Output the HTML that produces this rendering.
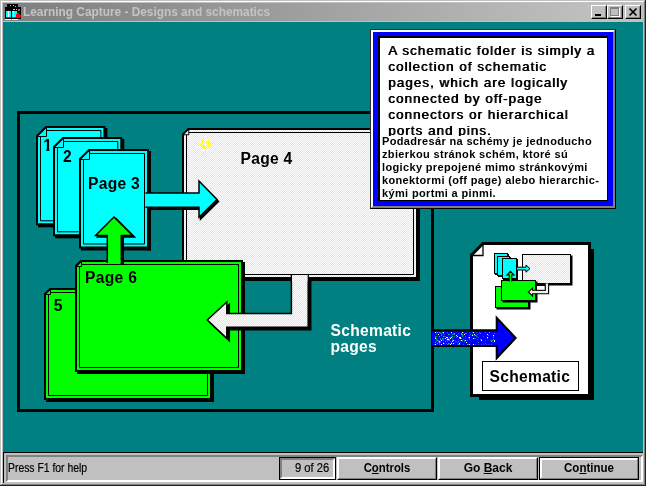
<!DOCTYPE html>
<html lang="en">
<head>
<meta charset="utf-8">
<title>Learning Capture - Designs and schematics</title>
<style>
html,body{margin:0;padding:0;}
body{width:646px;height:486px;overflow:hidden;background:#c0c0c0;position:relative;font-family:"Liberation Sans",sans-serif;-webkit-font-smoothing:none;}
.abs{position:absolute;}
#frame{left:0;top:0;width:646px;height:486px;background:#c0c0c0;}
#f-w-t{left:1px;top:1px;width:643px;height:1px;background:#fff;}
#f-w-l{left:1px;top:1px;width:1px;height:483px;background:#fff;}
#f-d-r{left:644px;top:1px;width:1px;height:484px;background:#808080;}
#f-d-b{left:1px;top:484px;width:644px;height:1px;background:#808080;}
#f-k-r{left:645px;top:0;width:1px;height:486px;background:#202020;}
#f-k-b{left:0;top:485px;width:646px;height:1px;background:#202020;}
#title{left:3px;top:3px;width:640px;height:18px;background:linear-gradient(to right,#808080 0%,#828282 6%,#c0c0c0 93%);}
#ttext{left:23px;top:4px;height:16px;line-height:16px;font-size:12px;font-weight:bold;color:#c4c4c4;white-space:nowrap;transform-origin:0 0;transform:scaleX(0.988);}
.tb{top:5px;width:16px;height:14px;background:#c0c0c0;box-sizing:border-box;border:1px solid;border-color:#fff #000 #000 #fff;}
.tb i{position:absolute;left:0;top:0;right:0;bottom:0;border:1px solid;border-color:#c0c0c0 #808080 #808080 #c0c0c0;}
#client{left:3px;top:22px;width:640px;height:430px;background:#008080;overflow:hidden;}
#sbline{left:3px;top:452px;width:640px;height:1px;background:#000;}
#sbvline{left:3px;top:452px;width:1px;height:31px;background:#000;}
#pane1{left:6px;top:455px;width:637px;height:27px;box-sizing:border-box;border:2px solid;border-color:#808080 #fff #fff #808080;}
#help{-webkit-text-stroke:0.2px #000;left:8px;top:461px;font-size:12px;line-height:14px;color:#000;white-space:nowrap;transform-origin:0 0;transform:scaleX(0.865);}
#cnt{left:279px;top:457px;width:57px;height:23px;box-sizing:border-box;border:1px solid #000;background:#c0c0c0;}
#cnt i{position:absolute;left:0;top:0;right:0;bottom:0;border:2px solid;border-color:#808080 #fff #fff #808080;}
#cnt span{-webkit-text-stroke:0.2px #000;position:absolute;left:14.5px;top:3px;font-size:12px;line-height:14px;white-space:nowrap;transform-origin:0 0;transform:scaleX(0.93);}
.btn{top:457px;height:23px;box-sizing:border-box;background:#c0c0c0;border:1px solid;border-color:#fff #000 #000 #fff;}
.btn i{position:absolute;left:0;top:0;right:0;bottom:0;border:1px solid;border-color:#fff #808080 #808080 #fff;}
.btn span{position:absolute;left:0;right:0;top:3px;text-align:center;font-size:12px;line-height:14px;font-weight:bold;white-space:nowrap;}
.btn u{text-decoration:underline;text-decoration-thickness:1px;text-underline-offset:1px;}

#tbx{left:370px;top:29px;width:246px;height:180px;box-sizing:border-box;border:1px solid;border-color:#303030 #000 #000 #303030;background:#0000ff;}
#tbx .hl{position:absolute;left:0;top:0;right:0;bottom:0;border:2px solid;border-color:#fff #808080 #808080 #fff;}
#tbx .in{position:absolute;left:7px;top:6px;width:227px;height:162px;background:#fff;border:solid #000;border-width:2px 1px 1px 2px;box-sizing:content-box;}
#en{left:388px;top:43.1px;font-size:13.33px;line-height:15.9px;letter-spacing:1.07px;color:#000;white-space:nowrap;text-shadow:0.75px 0 0 #000;}
#sk{left:380px;top:136px;width:227px;height:64px;background:#fff;}
#skt{left:382px;top:135.3px;font-size:11px;line-height:12.95px;font-weight:bold;letter-spacing:0.35px;color:#000;white-space:nowrap;}
</style>
</head>
<body>
<div id="frame" class="abs"></div>
<div id="wrap" class="abs" style="left:0;top:0;width:646px;height:486px;will-change:transform;">
<div id="f-w-t" class="abs"></div><div id="f-w-l" class="abs"></div>
<div id="f-d-r" class="abs"></div><div id="f-d-b" class="abs"></div>
<div id="f-k-r" class="abs"></div><div id="f-k-b" class="abs"></div>
<div id="title" class="abs"></div>
<svg class="abs" style="left:5px;top:4px" width="16" height="16" viewBox="0 0 16 16" shape-rendering="crispEdges">
<rect x="2" y="0" width="11" height="3" fill="#000"/>
<rect x="0" y="3" width="16" height="4" fill="#000"/>
<rect x="5" y="1" width="1" height="1" fill="#c0c0c0"/><rect x="8" y="1" width="1" height="1" fill="#c0c0c0"/><rect x="10" y="2" width="1" height="1" fill="#c0c0c0"/>
<rect x="8" y="5" width="2" height="1" fill="#c0c0c0"/><rect x="11" y="5" width="1" height="1" fill="#c0c0c0"/><rect x="13" y="5" width="2" height="2" fill="#808080"/>
<rect x="0" y="7" width="16" height="8" fill="#000"/>
<rect x="1" y="7" width="5" height="7" fill="#00ffff"/>
<rect x="7" y="7" width="5" height="7" fill="#00ffff"/>
<rect x="3" y="7" width="1" height="6" fill="#fff"/><rect x="8" y="7" width="1" height="6" fill="#fff"/>
<rect x="1" y="13" width="5" height="1" fill="#008080"/><rect x="7" y="13" width="4" height="1" fill="#008080"/>
<rect x="0" y="15" width="6" height="1" fill="#fff"/><rect x="7" y="15" width="6" height="1" fill="#fff"/>
<rect x="11" y="10" width="4" height="4" fill="#ff0000"/><rect x="12" y="9" width="2" height="1" fill="#ff0000"/><rect x="15" y="11" width="1" height="2" fill="#ff0000"/>
<rect x="13" y="14" width="2" height="1" fill="#000080"/><rect x="15" y="13" width="1" height="1" fill="#000080"/>
</svg>
<div id="ttext" class="abs">Learning Capture - Designs and schematics</div>
<div class="abs tb" style="left:591px"><i></i><svg class="abs" style="left:0;top:0" width="14" height="12" shape-rendering="crispEdges"><rect x="3" y="8" width="6" height="2" fill="#000"/></svg></div>
<div class="abs tb" style="left:607px"><i></i><svg class="abs" style="left:0;top:0" width="14" height="12" shape-rendering="crispEdges"><rect x="3" y="2" width="9" height="9" fill="#fff"/><rect x="2" y="1" width="9" height="9" fill="#808080"/><rect x="3" y="3" width="7" height="6" fill="#c0c0c0"/></svg></div>
<div class="abs tb" style="left:625px"><i></i><svg class="abs" style="left:0;top:0" width="14" height="12"><path d="M3.5 2.5 L10.5 9.5 M10.5 2.5 L3.5 9.5" stroke="#000" stroke-width="1.7" fill="none"/></svg></div>

<div id="client" class="abs">
<!--DS-->
<svg class="abs" style="left:0;top:0" width="640" height="430" viewBox="3 22 640 430" font-family="Liberation Sans, sans-serif">
<defs><pattern id="dy" width="2" height="2" patternUnits="userSpaceOnUse"><rect width="2" height="2" fill="#ffff00"/><rect x="0" y="0" width="1" height="1" fill="#fff"/><rect x="1" y="1" width="1" height="1" fill="#fff"/></pattern></defs>
<rect x="18.5" y="112.5" width="414" height="298" fill="none" stroke="#000" stroke-width="3" shape-rendering="crispEdges"/>
<rect x="103.4" y="128" width="4" height="99.30000000000001" fill="#000"/>
<rect x="38" y="223.3" width="69.4" height="4" fill="#000"/>
<polygon points="46,127.0 104.4,127.0 104.4,224.3 37.0,224.3 37.0,136" fill="#00ffff" stroke="#000" stroke-width="2" stroke-linejoin="miter"/>
<path d="M46.5,127.0 V136.5 H37.0" fill="none" stroke="#000" stroke-width="1"/>
<path d="M46.5,130.5 H100.9 V220.8 H40.5 V136.5" fill="none" stroke="#000" stroke-width="1"/>
<clipPath id="c1"><rect x="40" y="130" width="14" height="18.8"/><rect x="46.2" y="148" width="3.1" height="4"/></clipPath>
<text x="43.3" y="150.6" font-size="15.6" font-weight="bold" letter-spacing="0.3" fill="#000" clip-path="url(#c1)">1</text>
<rect x="120.3" y="139" width="4" height="99.30000000000001" fill="#000"/>
<rect x="55" y="234.3" width="69.3" height="4" fill="#000"/>
<polygon points="63,138.0 121.3,138.0 121.3,235.3 54.0,235.3 54.0,147" fill="#00ffff" stroke="#000" stroke-width="2" stroke-linejoin="miter"/>
<path d="M63.5,138.0 V147.5 H54.0" fill="none" stroke="#000" stroke-width="1"/>
<path d="M63.5,141.5 H117.8 V231.8 H57.5 V147.5" fill="none" stroke="#000" stroke-width="1"/>
<text x="63" y="161.8" font-size="15.6" font-weight="bold" letter-spacing="0.3" fill="#000" >2</text>
<rect x="147" y="151" width="4" height="99.5" fill="#000"/>
<rect x="81" y="246.5" width="70" height="4" fill="#000"/>
<polygon points="89,150.0 148.0,150.0 148.0,247.5 80.0,247.5 80.0,159" fill="#00ffff" stroke="#000" stroke-width="2" stroke-linejoin="miter"/>
<path d="M89.5,150.0 V159.5 H80.0" fill="none" stroke="#000" stroke-width="1"/>
<path d="M89.5,153.5 H144.5 V244.0 H83.5 V159.5" fill="none" stroke="#000" stroke-width="1"/>
<text x="88" y="188.5" font-size="15.6" font-weight="bold" letter-spacing="0.3" fill="#000" >Page 3</text>
<rect x="416" y="130" width="4" height="151" fill="#000"/>
<rect x="184" y="277" width="236" height="4" fill="#000"/>
<polygon points="188.3,129.0 417.0,129.0 417.0,278.0 183.0,278.0 183.0,134.3" fill="url(#dy)" stroke="#000" stroke-width="2" stroke-linejoin="miter"/>
<path d="M188.8,129.0 V134.8 H183.0" fill="none" stroke="#000" stroke-width="1"/>
<path d="M188.8,132.5 H413.5 V274.5 H186.5 V134.8" fill="none" stroke="#000" stroke-width="1"/>
<text x="240.5" y="164.1" font-size="15.6" font-weight="bold" letter-spacing="0.3" fill="#000" >Page 4</text>
<rect x="202" y="140" width="1" height="3" fill="#ffff00"/>
<rect x="210" y="144" width="1" height="2" fill="#ffff00"/>
<rect x="207" y="140" width="1" height="2" fill="#ffff00"/>
<rect x="203" y="151" width="1" height="3" fill="#ffff00"/>
<rect x="208" y="145" width="1" height="3" fill="#ffff00"/>
<rect x="206" y="149" width="1" height="2" fill="#ffff00"/>
<rect x="203" y="145" width="1" height="3" fill="#ffff00"/>
<rect x="206" y="138" width="1" height="2" fill="#fff"/>
<rect x="205" y="144" width="1" height="1" fill="#fff"/>
<rect x="201" y="149" width="1" height="2" fill="#fff"/>
<rect x="196" y="146" width="1" height="2" fill="#fff"/>
<rect x="202" y="145" width="1" height="2" fill="#ffff00"/>
<rect x="204" y="146" width="1" height="3" fill="#ffff00"/>
<rect x="205" y="136" width="1" height="2" fill="#fff"/>
<rect x="205" y="150" width="1" height="2" fill="#ffff00"/>
<rect x="203" y="151" width="1" height="1" fill="#ffff00"/>
<rect x="203" y="150" width="1" height="2" fill="#fff"/>
<rect x="206" y="141" width="1" height="2" fill="#ffff00"/>
<rect x="199" y="145" width="1" height="2" fill="#fff"/>
<rect x="205" y="143" width="1" height="2" fill="#fff"/>
<rect x="209" y="144" width="1" height="1" fill="#fff"/>
<rect x="200" y="144" width="1" height="1" fill="#ffff00"/>
<rect x="206" y="140" width="1" height="2" fill="#fff"/>
<rect x="206" y="149" width="1" height="3" fill="#fff"/>
<rect x="208" y="140" width="1" height="3" fill="#ffff00"/>
<rect x="208" y="143" width="1" height="3" fill="#ffff00"/>
<rect x="197" y="145" width="1" height="2" fill="#fff"/>
<path d="M145.5,193 H199 V181 L217,199.5 L199,217.3 V207.2 H145.5" transform="translate(1.5,2)" fill="#000" stroke="#000" stroke-width="1.5"/>
<path d="M145.5,193 H199 V181 L217,199.5 L199,217.3 V207.2 H145.5" fill="#00ffff" stroke="#000" stroke-width="1.5" stroke-linejoin="miter"/>
<rect x="144" y="190" width="1" height="22" fill="#000"/>
<rect x="210" y="290" width="4" height="112" fill="#000"/>
<rect x="46" y="398" width="168" height="4" fill="#000"/>
<polygon points="50,289.0 211.0,289.0 211.0,399.0 45.0,399.0 45.0,294" fill="#00ff00" stroke="#000" stroke-width="2" stroke-linejoin="miter"/>
<path d="M50.5,289.0 V294.5 H45.0" fill="none" stroke="#000" stroke-width="1"/>
<path d="M50.5,292.5 H207.5 V395.5 H48.5 V294.5" fill="none" stroke="#000" stroke-width="1"/>
<text x="53.8" y="311" font-size="15.6" font-weight="bold" letter-spacing="0.3" fill="#000" >5</text>
<rect x="241" y="262" width="4" height="112" fill="#000"/>
<rect x="77" y="370" width="168" height="4" fill="#000"/>
<polygon points="81,261.0 242.0,261.0 242.0,371.0 76.0,371.0 76.0,266" fill="#00ff00" stroke="#000" stroke-width="2" stroke-linejoin="miter"/>
<path d="M81.5,261.0 V266.5 H76.0" fill="none" stroke="#000" stroke-width="1"/>
<path d="M81.5,264.5 H238.5 V367.5 H79.5 V266.5" fill="none" stroke="#000" stroke-width="1"/>
<text x="85.1" y="282.7" font-size="15.6" font-weight="bold" letter-spacing="0.3" fill="#000" >Page 6</text>
<path d="M107.3,263 V235.5 H95.5 L114,217 L132.5,235.5 H121.3 V263" transform="translate(2,1.5)" fill="#000" stroke="#000" stroke-width="1.5"/>
<path d="M107.3,263 V235.5 H95.5 L114,217 L132.5,235.5 H121.3 V263" fill="#00ff00" stroke="#000" stroke-width="1.5" stroke-linejoin="miter"/>
<rect x="108" y="260" width="12.5" height="4" fill="#00ff00"/>
<path d="M291.4,275 V313.5 H226.8 V302 L207.3,320 L226.8,338.3 V327.3 H308.2 V275" transform="translate(2.5,2.5)" fill="#000" stroke="#000" stroke-width="1.5"/>
<path d="M291.4,275 V313.5 H226.8 V302 L207.3,320 L226.8,338.3 V327.3 H308.2 V275" fill="url(#dy)" stroke="#000" stroke-width="1.5" stroke-linejoin="miter"/>
<rect x="292.2" y="274.6" width="15.2" height="7" fill="url(#dy)"/>
<rect x="290" y="274" width="20" height="1" fill="#000"/>
<text x="330.5" y="336.4" font-size="15.6" font-weight="bold" letter-spacing="0.3" fill="#fff" >Schematic</text>
<text x="330.5" y="351.8" font-size="15.6" font-weight="bold" letter-spacing="0.3" fill="#fff" >pages</text>
<rect x="479" y="249" width="115" height="151" fill="#000"/>
<polygon points="483,243.5 589.5,243.5 589.5,395.5 471.5,395.5 471.5,255" fill="#fff" stroke="#000" stroke-width="3"/>
<path d="M483,242 V255.5 H470" fill="none" stroke="#000" stroke-width="1.3"/>
<rect x="495" y="254" width="14" height="21" fill="#000"/>
<rect x="494" y="253" width="14" height="21" fill="#000" shape-rendering="crispEdges"/>
<rect x="495" y="254" width="12" height="19" fill="#00ffff" shape-rendering="crispEdges"/>
<rect x="498" y="257" width="13" height="20" fill="#000"/>
<rect x="497" y="256" width="13" height="20" fill="#000" shape-rendering="crispEdges"/>
<rect x="498" y="257" width="11" height="18" fill="#00ffff" shape-rendering="crispEdges"/>
<rect x="503" y="259" width="15" height="21" fill="#000"/>
<rect x="502" y="258" width="15" height="21" fill="#000" shape-rendering="crispEdges"/>
<rect x="503" y="259" width="13" height="19" fill="#00ffff" shape-rendering="crispEdges"/>
<rect x="523.5" y="255.5" width="49" height="30" fill="#000"/>
<rect x="522" y="254" width="49" height="30" fill="#000" shape-rendering="crispEdges"/>
<rect x="523" y="255" width="47" height="28" fill="url(#dy)" shape-rendering="crispEdges"/>
<path d="M516.5,267.2 H526 V265 L530,268.6 L526,272.2 V270 H516.5 Z" fill="#00ffff" stroke="#000" stroke-width="1"/>
<rect x="496.5" y="287.5" width="34" height="22" fill="#000"/>
<rect x="495" y="286" width="34" height="22" fill="#000" shape-rendering="crispEdges"/>
<rect x="496" y="287" width="32" height="20" fill="#00ff00" shape-rendering="crispEdges"/>
<rect x="502.5" y="281.5" width="35" height="21" fill="#000"/>
<rect x="501" y="280" width="35" height="21" fill="#000" shape-rendering="crispEdges"/>
<rect x="502" y="281" width="33" height="19" fill="#00ff00" shape-rendering="crispEdges"/>
<path d="M509.2,281.5 V275 H507 L510.4,271.3 L514,275 H511.8 V281.5" fill="#00ff00" stroke="#000" stroke-width="1.1"/>
<path d="M545.2,283.5 V290.3 H532.5 V288.2 L528.3,292 L532.5,296 V293.8 H548.6 V283.5" fill="url(#dy)" stroke="#000" stroke-width="1.1"/>
<rect x="536.5" y="285.5" width="8.7" height="4.8" fill="#fff" stroke="#000" stroke-width="1"/>
<rect x="482.5" y="361.5" width="96" height="29" fill="#fff" stroke="#000" stroke-width="1" shape-rendering="crispEdges"/>
<text x="489.5" y="381.8" font-size="15.6" font-weight="bold" letter-spacing="0.3" fill="#000" >Schematic</text>
<path d="M432,331 H497 V318.5 L515.5,338 L497,357.5 V345.5 H432" fill="#0000ff" stroke="none"/>
<rect x="454" y="334" width="1" height="1" fill="#008080"/>
<rect x="438" y="340" width="1" height="1" fill="#4040ff"/>
<rect x="437" y="340" width="1" height="1" fill="#008080"/>
<rect x="461" y="338" width="1" height="1" fill="#008080"/>
<rect x="469" y="338" width="1" height="1" fill="#4040ff"/>
<rect x="441" y="335" width="1" height="1" fill="#4040ff"/>
<rect x="452" y="338" width="1" height="1" fill="#008080"/>
<rect x="477" y="334" width="1" height="1" fill="#4040ff"/>
<rect x="474" y="335" width="1" height="1" fill="#4040ff"/>
<rect x="457" y="336" width="1" height="1" fill="#008080"/>
<rect x="478" y="344" width="1" height="1" fill="#4040ff"/>
<rect x="453" y="340" width="1" height="1" fill="#ffffff"/>
<rect x="480" y="339" width="1" height="1" fill="#008080"/>
<rect x="441" y="340" width="1" height="1" fill="#ffffff"/>
<rect x="443" y="339" width="1" height="1" fill="#008080"/>
<rect x="456" y="341" width="1" height="1" fill="#00c0c0"/>
<rect x="437" y="343" width="1" height="1" fill="#4040ff"/>
<rect x="477" y="339" width="1" height="1" fill="#00c0c0"/>
<rect x="447" y="344" width="1" height="1" fill="#008080"/>
<rect x="465" y="333" width="1" height="1" fill="#00c0c0"/>
<rect x="451" y="343" width="1" height="1" fill="#ffffff"/>
<rect x="443" y="333" width="1" height="1" fill="#008080"/>
<rect x="476" y="335" width="1" height="1" fill="#4040ff"/>
<rect x="445" y="336" width="1" height="1" fill="#008080"/>
<rect x="460" y="340" width="1" height="1" fill="#4040ff"/>
<rect x="459" y="338" width="1" height="1" fill="#00c0c0"/>
<rect x="474" y="338" width="1" height="1" fill="#008080"/>
<rect x="447" y="339" width="1" height="1" fill="#ffffff"/>
<rect x="472" y="332" width="1" height="1" fill="#4040ff"/>
<rect x="443" y="340" width="1" height="1" fill="#ffffff"/>
<rect x="473" y="332" width="1" height="1" fill="#008080"/>
<rect x="473" y="338" width="1" height="1" fill="#ffffff"/>
<rect x="456" y="341" width="1" height="1" fill="#008080"/>
<rect x="463" y="339" width="1" height="1" fill="#008080"/>
<rect x="447" y="340" width="1" height="1" fill="#4040ff"/>
<rect x="448" y="340" width="1" height="1" fill="#4040ff"/>
<rect x="455" y="342" width="1" height="1" fill="#008080"/>
<rect x="481" y="344" width="1" height="1" fill="#4040ff"/>
<rect x="435" y="344" width="1" height="1" fill="#ffffff"/>
<rect x="446" y="343" width="1" height="1" fill="#ffffff"/>
<rect x="456" y="337" width="1" height="1" fill="#008080"/>
<rect x="448" y="339" width="1" height="1" fill="#008080"/>
<rect x="439" y="342" width="1" height="1" fill="#00c0c0"/>
<rect x="464" y="334" width="1" height="1" fill="#ffffff"/>
<rect x="444" y="334" width="1" height="1" fill="#4040ff"/>
<rect x="443" y="340" width="1" height="1" fill="#008080"/>
<rect x="447" y="332" width="1" height="1" fill="#ffffff"/>
<rect x="454" y="336" width="1" height="1" fill="#008080"/>
<rect x="437" y="343" width="1" height="1" fill="#00c0c0"/>
<rect x="490" y="340" width="1" height="1" fill="#008080"/>
<rect x="467" y="340" width="1" height="1" fill="#00c0c0"/>
<rect x="483" y="344" width="1" height="1" fill="#008080"/>
<rect x="469" y="332" width="1" height="1" fill="#4040ff"/>
<rect x="467" y="340" width="1" height="1" fill="#008080"/>
<rect x="490" y="340" width="1" height="1" fill="#008080"/>
<rect x="446" y="343" width="1" height="1" fill="#4040ff"/>
<rect x="468" y="344" width="1" height="1" fill="#008080"/>
<rect x="442" y="338" width="1" height="1" fill="#00c0c0"/>
<rect x="461" y="333" width="1" height="1" fill="#ffffff"/>
<rect x="443" y="343" width="1" height="1" fill="#ffffff"/>
<rect x="444" y="343" width="1" height="1" fill="#4040ff"/>
<rect x="459" y="337" width="1" height="1" fill="#ffffff"/>
<rect x="435" y="337" width="1" height="1" fill="#00c0c0"/>
<rect x="479" y="332" width="1" height="1" fill="#4040ff"/>
<rect x="440" y="333" width="1" height="1" fill="#008080"/>
<rect x="491" y="344" width="1" height="1" fill="#008080"/>
<rect x="477" y="336" width="1" height="1" fill="#4040ff"/>
<rect x="478" y="337" width="1" height="1" fill="#008080"/>
<rect x="485" y="343" width="1" height="1" fill="#008080"/>
<rect x="451" y="332" width="1" height="1" fill="#ffffff"/>
<rect x="463" y="332" width="1" height="1" fill="#4040ff"/>
<rect x="436" y="340" width="1" height="1" fill="#008080"/>
<rect x="444" y="336" width="1" height="1" fill="#008080"/>
<rect x="467" y="344" width="1" height="1" fill="#00c0c0"/>
<rect x="466" y="342" width="1" height="1" fill="#ffffff"/>
<rect x="436" y="332" width="1" height="1" fill="#4040ff"/>
<rect x="449" y="339" width="1" height="1" fill="#00c0c0"/>
<rect x="453" y="343" width="1" height="1" fill="#008080"/>
<rect x="487" y="334" width="1" height="1" fill="#ffffff"/>
<rect x="461" y="334" width="1" height="1" fill="#00c0c0"/>
<rect x="452" y="341" width="1" height="1" fill="#ffffff"/>
<rect x="436" y="339" width="1" height="1" fill="#ffffff"/>
<rect x="462" y="332" width="1" height="1" fill="#ffffff"/>
<rect x="469" y="337" width="1" height="1" fill="#ffffff"/>
<rect x="447" y="337" width="1" height="1" fill="#ffffff"/>
<rect x="458" y="333" width="1" height="1" fill="#4040ff"/>
<rect x="475" y="335" width="1" height="1" fill="#008080"/>
<rect x="443" y="338" width="1" height="1" fill="#00c0c0"/>
<rect x="435" y="336" width="1" height="1" fill="#008080"/>
<rect x="488" y="344" width="1" height="1" fill="#4040ff"/>
<rect x="458" y="344" width="1" height="1" fill="#00c0c0"/>
<rect x="443" y="336" width="1" height="1" fill="#008080"/>
<rect x="485" y="340" width="1" height="1" fill="#4040ff"/>
<rect x="486" y="344" width="1" height="1" fill="#4040ff"/>
<rect x="478" y="342" width="1" height="1" fill="#008080"/>
<rect x="436" y="334" width="1" height="1" fill="#008080"/>
<rect x="458" y="339" width="1" height="1" fill="#008080"/>
<rect x="465" y="336" width="1" height="1" fill="#008080"/>
<rect x="439" y="342" width="1" height="1" fill="#00c0c0"/>
<rect x="450" y="344" width="1" height="1" fill="#ffffff"/>
<rect x="448" y="343" width="1" height="1" fill="#00c0c0"/>
<rect x="465" y="338" width="1" height="1" fill="#ffffff"/>
<rect x="475" y="335" width="1" height="1" fill="#008080"/>
<rect x="442" y="332" width="1" height="1" fill="#00c0c0"/>
<rect x="451" y="342" width="1" height="1" fill="#008080"/>
<rect x="477" y="339" width="1" height="1" fill="#4040ff"/>
<rect x="452" y="339" width="1" height="1" fill="#008080"/>
<rect x="491" y="340" width="1" height="1" fill="#008080"/>
<rect x="493" y="339" width="1" height="1" fill="#00c0c0"/>
<rect x="462" y="336" width="1" height="1" fill="#008080"/>
<rect x="438" y="341" width="1" height="1" fill="#4040ff"/>
<rect x="450" y="337" width="1" height="1" fill="#4040ff"/>
<rect x="465" y="338" width="1" height="1" fill="#008080"/>
<rect x="460" y="337" width="1" height="1" fill="#008080"/>
<rect x="487" y="337" width="1" height="1" fill="#ffffff"/>
<rect x="487" y="338" width="1" height="1" fill="#008080"/>
<rect x="452" y="336" width="1" height="1" fill="#00c0c0"/>
<rect x="458" y="341" width="1" height="1" fill="#00c0c0"/>
<rect x="451" y="333" width="1" height="1" fill="#ffffff"/>
<rect x="474" y="334" width="1" height="1" fill="#ffffff"/>
<rect x="461" y="340" width="1" height="1" fill="#ffffff"/>
<rect x="480" y="333" width="1" height="1" fill="#00c0c0"/>
<rect x="492" y="340" width="1" height="1" fill="#00c0c0"/>
<rect x="460" y="337" width="1" height="1" fill="#ffffff"/>
<rect x="450" y="338" width="1" height="1" fill="#ffffff"/>
<rect x="441" y="334" width="1" height="1" fill="#008080"/>
<rect x="465" y="340" width="1" height="1" fill="#ffffff"/>
<rect x="469" y="335" width="1" height="1" fill="#008080"/>
<rect x="455" y="340" width="1" height="1" fill="#008080"/>
<rect x="460" y="338" width="1" height="1" fill="#4040ff"/>
<rect x="447" y="338" width="1" height="1" fill="#008080"/>
<rect x="488" y="335" width="1" height="1" fill="#008080"/>
<rect x="489" y="332" width="1" height="1" fill="#00c0c0"/>
<rect x="464" y="341" width="1" height="1" fill="#008080"/>
<rect x="448" y="334" width="1" height="1" fill="#008080"/>
<rect x="434" y="344" width="1" height="1" fill="#4040ff"/>
<rect x="453" y="334" width="1" height="1" fill="#4040ff"/>
<rect x="441" y="333" width="1" height="1" fill="#4040ff"/>
<rect x="494" y="341" width="1" height="1" fill="#ffffff"/>
<rect x="448" y="344" width="1" height="1" fill="#008080"/>
<rect x="451" y="337" width="1" height="1" fill="#008080"/>
<rect x="464" y="340" width="1" height="1" fill="#008080"/>
<rect x="435" y="338" width="1" height="1" fill="#ffffff"/>
<rect x="437" y="332" width="1" height="1" fill="#00c0c0"/>
<rect x="439" y="336" width="1" height="1" fill="#00c0c0"/>
<rect x="493" y="337" width="1" height="1" fill="#008080"/>
<rect x="457" y="342" width="1" height="1" fill="#008080"/>
<rect x="466" y="333" width="1" height="1" fill="#008080"/>
<rect x="448" y="339" width="1" height="1" fill="#ffffff"/>
<rect x="440" y="341" width="1" height="1" fill="#008080"/>
<rect x="492" y="342" width="1" height="1" fill="#4040ff"/>
<rect x="443" y="338" width="1" height="1" fill="#008080"/>
<rect x="472" y="334" width="1" height="1" fill="#008080"/>
<rect x="445" y="338" width="1" height="1" fill="#ffffff"/>
<rect x="481" y="339" width="1" height="1" fill="#00c0c0"/>
<rect x="462" y="334" width="1" height="1" fill="#008080"/>
<rect x="451" y="333" width="1" height="1" fill="#008080"/>
<rect x="469" y="344" width="1" height="1" fill="#ffffff"/>
<rect x="461" y="333" width="1" height="1" fill="#00c0c0"/>
<rect x="446" y="337" width="1" height="1" fill="#00c0c0"/>
<rect x="446" y="337" width="1" height="1" fill="#00c0c0"/>
<rect x="435" y="342" width="1" height="1" fill="#00c0c0"/>
<rect x="436" y="338" width="1" height="1" fill="#008080"/>
<rect x="485" y="332" width="1" height="1" fill="#008080"/>
<rect x="473" y="332" width="1" height="1" fill="#ffffff"/>
<rect x="493" y="336" width="1" height="1" fill="#4040ff"/>
<rect x="494" y="333" width="1" height="1" fill="#008080"/>
<rect x="440" y="339" width="1" height="1" fill="#00c0c0"/>
<rect x="442" y="339" width="1" height="1" fill="#ffffff"/>
<rect x="472" y="335" width="1" height="1" fill="#ffffff"/>
<rect x="459" y="344" width="1" height="1" fill="#00c0c0"/>
<rect x="438" y="342" width="1" height="1" fill="#4040ff"/>
<rect x="468" y="337" width="1" height="1" fill="#00c0c0"/>
<rect x="450" y="341" width="1" height="1" fill="#008080"/>
<rect x="462" y="334" width="1" height="1" fill="#00c0c0"/>
<rect x="449" y="343" width="1" height="1" fill="#008080"/>
<rect x="483" y="336" width="1" height="1" fill="#4040ff"/>
<rect x="451" y="337" width="1" height="1" fill="#ffffff"/>
<rect x="446" y="339" width="1" height="1" fill="#008080"/>
<rect x="449" y="334" width="1" height="1" fill="#4040ff"/>
<rect x="446" y="337" width="1" height="1" fill="#ffffff"/>
<rect x="449" y="340" width="1" height="1" fill="#008080"/>
<rect x="440" y="332" width="1" height="1" fill="#008080"/>
<rect x="436" y="336" width="1" height="1" fill="#008080"/>
<rect x="462" y="341" width="1" height="1" fill="#008080"/>
<rect x="440" y="342" width="1" height="1" fill="#4040ff"/>
<rect x="456" y="335" width="1" height="1" fill="#ffffff"/>
<rect x="443" y="332" width="1" height="1" fill="#ffffff"/>
<rect x="436" y="341" width="1" height="1" fill="#008080"/>
<rect x="460" y="342" width="1" height="1" fill="#4040ff"/>
<rect x="453" y="333" width="1" height="1" fill="#00c0c0"/>
<rect x="469" y="339" width="1" height="1" fill="#008080"/>
<rect x="443" y="342" width="1" height="1" fill="#008080"/>
<rect x="459" y="343" width="1" height="1" fill="#ffffff"/>
<rect x="476" y="336" width="1" height="1" fill="#008080"/>
<rect x="453" y="343" width="1" height="1" fill="#ffffff"/>
<rect x="460" y="338" width="1" height="1" fill="#ffffff"/>
<rect x="475" y="335" width="1" height="1" fill="#00c0c0"/>
<rect x="447" y="332" width="1" height="1" fill="#008080"/>
<rect x="463" y="344" width="1" height="1" fill="#008080"/>
<rect x="437" y="340" width="1" height="1" fill="#00c0c0"/>
<rect x="439" y="341" width="1" height="1" fill="#ffffff"/>
<rect x="481" y="340" width="1" height="1" fill="#ffffff"/>
<rect x="452" y="334" width="1" height="1" fill="#008080"/>
<rect x="440" y="338" width="1" height="1" fill="#008080"/>
<rect x="436" y="339" width="1" height="1" fill="#4040ff"/>
<rect x="445" y="341" width="1" height="1" fill="#00c0c0"/>
<rect x="494" y="340" width="1" height="1" fill="#ffffff"/>
<rect x="441" y="334" width="1" height="1" fill="#008080"/>
<rect x="454" y="333" width="1" height="1" fill="#00c0c0"/>
<rect x="475" y="338" width="1" height="1" fill="#008080"/>
<rect x="462" y="340" width="1" height="1" fill="#008080"/>
<rect x="463" y="335" width="1" height="1" fill="#4040ff"/>
<rect x="438" y="334" width="1" height="1" fill="#ffffff"/>
<rect x="439" y="344" width="1" height="1" fill="#4040ff"/>
<rect x="476" y="332" width="1" height="1" fill="#008080"/>
<rect x="439" y="343" width="1" height="1" fill="#4040ff"/>
<rect x="439" y="332" width="1" height="1" fill="#00c0c0"/>
<rect x="475" y="344" width="1" height="1" fill="#008080"/>
<rect x="441" y="335" width="1" height="1" fill="#00c0c0"/>
<rect x="493" y="335" width="1" height="1" fill="#ffffff"/>
<rect x="473" y="344" width="1" height="1" fill="#ffffff"/>
<rect x="491" y="341" width="1" height="1" fill="#00c0c0"/>
<rect x="443" y="336" width="1" height="1" fill="#00c0c0"/>
<rect x="447" y="341" width="1" height="1" fill="#4040ff"/>
<rect x="449" y="337" width="1" height="1" fill="#008080"/>
<rect x="445" y="338" width="1" height="1" fill="#ffffff"/>
<rect x="441" y="344" width="1" height="1" fill="#ffffff"/>
<rect x="457" y="336" width="1" height="1" fill="#ffffff"/>
<rect x="470" y="334" width="1" height="1" fill="#008080"/>
<rect x="462" y="335" width="1" height="1" fill="#008080"/>
<rect x="452" y="340" width="1" height="1" fill="#4040ff"/>
<rect x="448" y="334" width="1" height="1" fill="#00c0c0"/>
<rect x="460" y="340" width="1" height="1" fill="#008080"/>
<rect x="442" y="339" width="1" height="1" fill="#008080"/>
<rect x="435" y="332" width="1" height="1" fill="#ffffff"/>
<rect x="453" y="333" width="1" height="1" fill="#4040ff"/>
<rect x="448" y="338" width="1" height="1" fill="#4040ff"/>
<path d="M431,330.3 H496.8 V318 L515.5,338 L496.8,358 V346 H431" fill="none" stroke="#000" stroke-width="2.2" stroke-linejoin="miter"/>
</svg>
<!--DE-->
</div>

<div id="tbx" class="abs"><div class="hl"></div><div class="in"></div></div>
<div id="en" class="abs">A schematic folder is simply a<br>collection of schematic<br>pages, which are logically<br>connected by off-page<br>connectors or hierarchical<br>ports and pins.</div>
<div id="sk" class="abs"></div>
<div id="skt" class="abs">Podadresár na schémy je jednoducho<br>zbierkou stránok schém, ktoré sú<br>logicky prepojené mimo stránkovými<br>konektormi (off page) alebo hierarchic-<br>kými portmi a pinmi.</div>
<div id="sbline" class="abs"></div><div id="sbvline" class="abs"></div>
<div id="pane1" class="abs"></div>
<div id="help" class="abs">Press F1 for help</div>
<div id="cnt" class="abs"><i></i><span>9 of 26</span></div>
<div class="abs btn" style="left:337px;width:100px"><i></i><span style="transform:scaleX(0.945)">C<u>o</u>ntrols</span></div>
<div class="abs btn" style="left:438px;width:100px"><i></i><span>Go <u>B</u>ack</span></div>
<div class="abs" style="left:539px;top:457px;width:100px;height:23px;background:#000"></div>
<div class="abs btn" style="left:540px;top:458px;width:98px;height:21px;border-color:#fff #808080 #808080 #fff"><i style="border-color:#fff #c0c0c0 #c0c0c0 #fff"></i><span style="top:2px;transform:scaleX(0.96)">Co<u>n</u>tinue</span></div>
</div>
</body>
</html>
